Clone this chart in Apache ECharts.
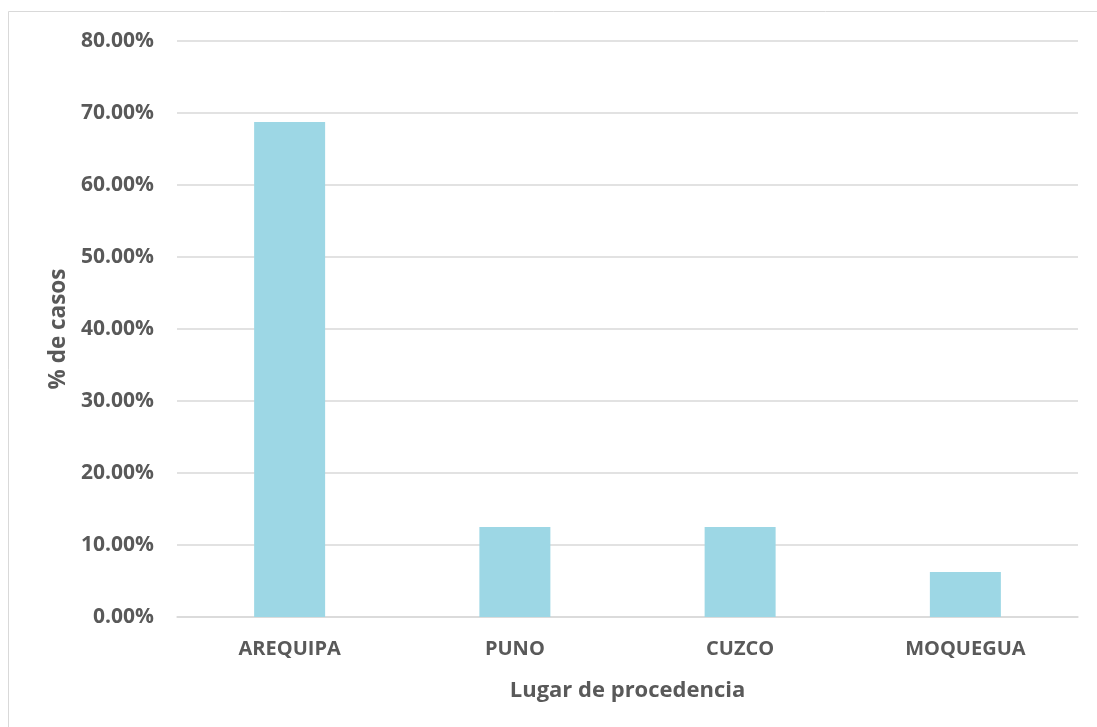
<!DOCTYPE html>
<html>
<head>
<meta charset="utf-8">
<script src="https://cdn.jsdelivr.net/npm/echarts@6/dist/echarts.min.js"></script>
<style>
html,body{margin:0;padding:0;background:#fff;}
#chart{width:1097px;height:727px;}
</style>
</head>
<body>
<div id="chart"></div>
<script>
const categories = ['AREQUIPA', 'PUNO', 'CUZCO', 'MOQUEGUA'];
const values = [68.75, 12.5, 12.5, 6.25];
const xAxisTitle = 'Lugar de procedencia';
const yAxisTitle = '% de casos';

const textColor = '#595959';
const fontFamily = '"Open Sans", Calibri, sans-serif';

const chart = echarts.init(document.getElementById('chart'));
chart.setOption({
  backgroundColor: '#ffffff',
  animation: false,
  graphic: [{
    type: 'rect',
    shape: { x: 8.5, y: 11.5, width: 1200, height: 800 },
    style: { fill: 'none', stroke: '#D9D9D9', lineWidth: 1 },
    silent: true
  }],
  grid: { left: 177, right: 19, top: 41, bottom: 110 },
  xAxis: {
    type: 'category',
    data: categories,
    name: xAxisTitle,
    nameLocation: 'middle',
    nameGap: 63,
    nameTextStyle: { color: textColor, fontSize: 22, fontWeight: 'bold', fontFamily },
    axisLine: { lineStyle: { color: '#D9D9D9', width: 1.5 } },
    axisTick: { show: false },
    axisLabel: { color: textColor, fontSize: 20, fontWeight: 'bold', fontFamily, margin: 22 }
  },
  yAxis: {
    type: 'value',
    min: 0, max: 80, interval: 10,
    name: yAxisTitle,
    nameLocation: 'middle',
    nameGap: 103,
    nameRotate: 90,
    nameTextStyle: { color: textColor, fontSize: 22.5, fontWeight: 'bold', fontFamily },
    axisLine: { show: false },
    axisTick: { show: false },
    splitLine: { lineStyle: { color: '#D9D9D9', width: 1.5 } },
    axisLabel: {
      color: textColor, fontSize: 21, fontWeight: 'bold', fontFamily, margin: 23,
      formatter: v => v.toFixed(2) + '%'
    }
  },
  series: [{
    type: 'bar',
    data: values,
    barWidth: 71,
    itemStyle: { color: '#9DD7E5' }
  }]
});
</script>
</body>
</html>
